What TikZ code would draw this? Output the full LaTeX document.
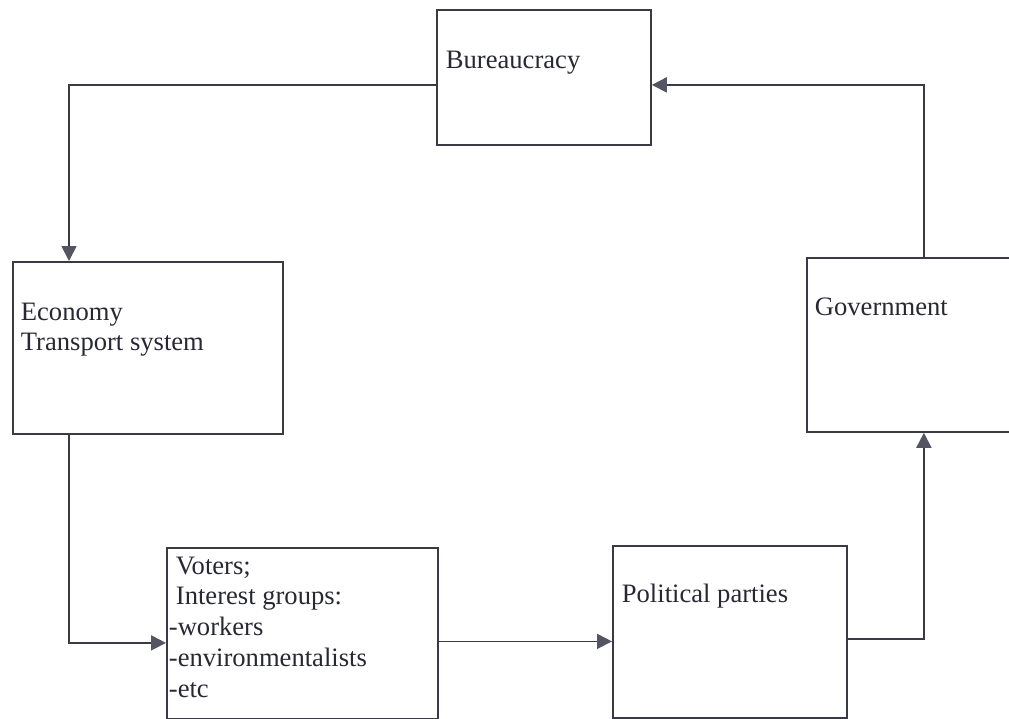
\documentclass[tikz,border=0pt]{standalone}
\usepackage{fontspec}
\setmainfont{Liberation Serif}
\usetikzlibrary{arrows.meta}
\definecolor{linecol}{RGB}{58,58,68}
\definecolor{txtcol}{RGB}{40,40,52}
\definecolor{headcol}{RGB}{84,84,100}
\begin{document}
\begin{tikzpicture}[line join=miter, line width=0.9pt, >={Triangle[length=7.5pt,width=7.5pt,color=headcol]}]
\tikzset{box/.style={draw=linecol, rectangle, inner sep=0pt, anchor=north west},
	txt/.style={anchor=base west, inner sep=0pt, align=left, text=txtcol, font=\fontsize{13.3pt}{15.4pt}\selectfont},
	arr/.style={draw=linecol, ->}}
\useasboundingbox (0,0) rectangle (504.5pt,-359.5pt);
\node[box, minimum width=107pt, minimum height=67.5pt] (bur) at (218pt,-4.5pt) {};
\node[box, minimum width=135pt, minimum height=86pt] (eco) at (6pt,-130.5pt) {};
\node[box, minimum width=117pt, minimum height=87pt] (gov) at (403pt,-128.5pt) {};
\node[box, minimum width=135.5pt, minimum height=85.5pt] (vot) at (83pt,-273.5pt) {};
\node[box, minimum width=117pt, minimum height=86pt] (pp) at (306pt,-272.5pt) {};
\node[txt] (bur-t) at ([shift={(4.5pt,-29.5pt)}]bur.north west) {Bureaucracy};
\node[txt] (eco-t) at ([shift={(4pt,-44.9pt)}]eco.north west) {Economy\\Transport system};
\node[txt] (gov-t) at ([shift={(4pt,-29pt)}]gov.north west) {Government};
\node[txt] (vot-t) at ([shift={(4.5pt,-75.1pt)}]vot.north west) {Voters;\\Interest groups:\\\hspace*{-3.5pt}-workers\\\hspace*{-3.5pt}-environmentalists\\\hspace*{-3.5pt}-etc};
\node[txt] (pp-t) at ([shift={(4.5pt,-28.5pt)}]pp.north west) {Political parties};
\draw[arr] ([yshift=-3.75pt]bur.west) -| ([xshift=28.5pt]eco.north west);
\draw[arr] ([xshift=28.5pt]eco.south west) |- ([yshift=-4.75pt]vot.west);
\draw[arr] ([yshift=-4pt]vot.east) -- ([yshift=-4pt]vot.east -| pp.west);
\draw[arr] ([yshift=-3.5pt]pp.east) -| (gov.south);
\draw[arr] (gov.north) |- ([yshift=-3.75pt]bur.east);
\end{tikzpicture}
\end{document}
